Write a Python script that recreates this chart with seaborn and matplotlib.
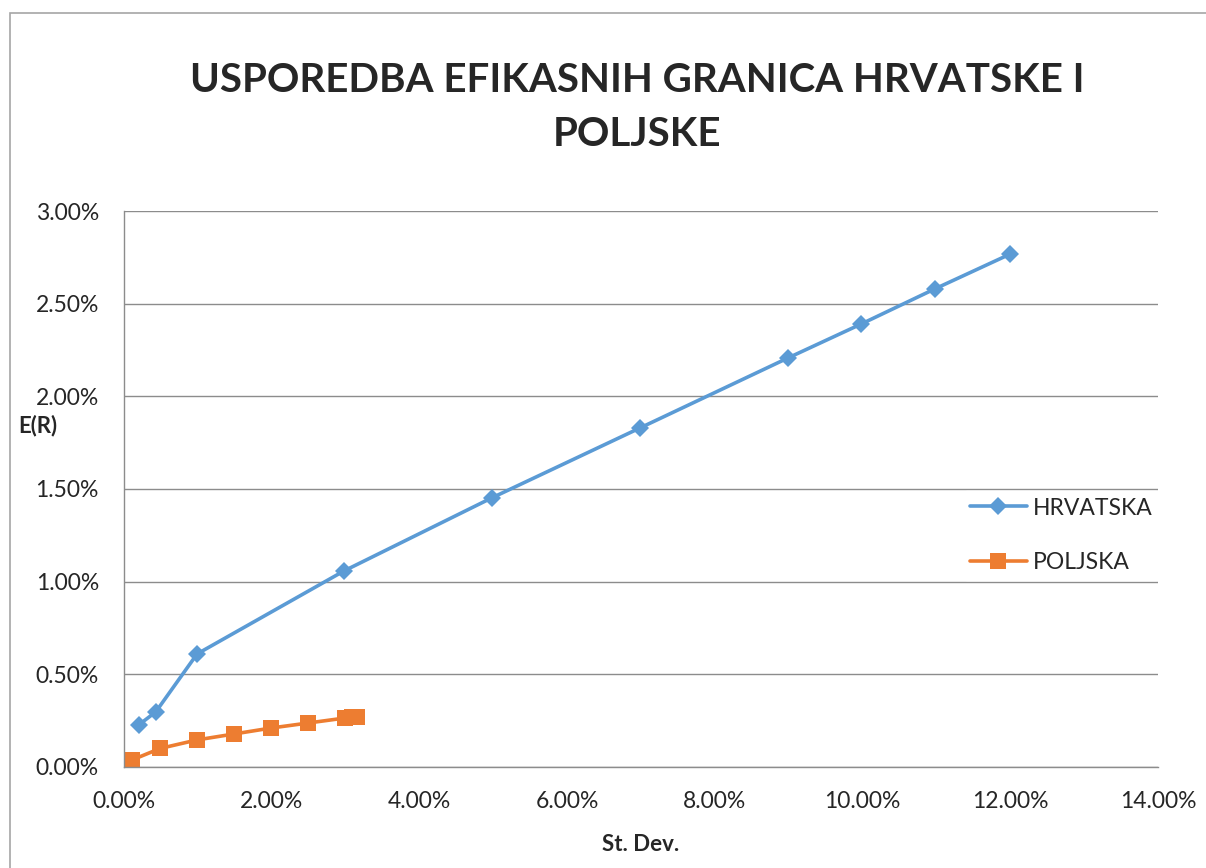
import numpy as np
import pandas as pd
import matplotlib
matplotlib.use("Agg")
import matplotlib.pyplot as plt
import seaborn as sns
from matplotlib.ticker import PercentFormatter
from matplotlib.patches import Rectangle

# values in percent
hr_sd = [0.20, 0.43, 0.99, 2.98, 4.98, 6.99, 8.99, 9.98, 10.98, 12.0]
hr_er = [0.227, 0.297, 0.61, 1.058, 1.452, 1.83, 2.207, 2.39, 2.58, 2.768]

pl_sd = [0.11, 0.49, 0.99, 1.49, 1.99, 2.49, 2.99, 3.09, 3.15]
pl_er = [0.038, 0.10, 0.146, 0.178, 0.21, 0.237, 0.264, 0.27, 0.27]

title = "USPOREDBA EFIKASNIH GRANICA HRVATSKE I\nPOLJSKE"

sns.set_style("white")
plt.rcParams["font.family"] = ["Lato", "DejaVu Sans"]

hr = pd.DataFrame({"sd": hr_sd, "er": hr_er})
pl = pd.DataFrame({"sd": pl_sd, "er": pl_er})

fig = plt.figure(figsize=(12.06, 8.68), dpi=100)
ax = fig.add_axes([0.1028, 0.1164, 0.9602 - 0.1028, 0.7569 - 0.1164])

sns.lineplot(data=hr, x="sd", y="er", ax=ax, color="#5B9BD5", lw=2.6,
             marker="D", markersize=9.5, markeredgewidth=0, sort=False,
             label="HRVATSKA")
sns.lineplot(data=pl, x="sd", y="er", ax=ax, color="#ED7D31", lw=2.6,
             marker="s", markersize=11, markeredgewidth=0, sort=False,
             label="POLJSKA")

ax.set_xlim(0, 14)
ax.set_ylim(0, 3)
ax.set_xticks(np.arange(0, 14.1, 2))
ax.set_yticks(np.arange(0, 3.01, 0.5))
ax.xaxis.set_major_formatter(PercentFormatter(decimals=2))
ax.yaxis.set_major_formatter(PercentFormatter(decimals=2))
ax.tick_params(labelsize=16.5, length=0)
ax.tick_params(axis="x", pad=17)
ax.tick_params(axis="y", pad=18)
ax.grid(axis="y", color="#8c8c8c", lw=1)
ax.set_axisbelow(True)
for s in ["top", "right"]:
    ax.spines[s].set_visible(False)
for s in ["left", "bottom"]:
    ax.spines[s].set_color("#8c8c8c")
    ax.spines[s].set_linewidth(1)

ax.set_xlabel("St. Dev.", fontsize=16, fontweight="bold")
ax.xaxis.set_label_coords(0.5, -0.12)
ax.set_ylabel("E(R)", fontsize=16, fontweight="bold", rotation=0)
ax.yaxis.set_label_coords(-0.083, 0.595)

leg = ax.legend(loc="center left", bbox_to_anchor=(0.80, 0.417), frameon=True,
                fontsize=16.5, handlelength=2.5, labelspacing=1.45,
                borderpad=0.3, handletextpad=0.25)
leg.get_frame().set_edgecolor("white")
leg.get_frame().set_facecolor("white")
leg.get_frame().set_alpha(1)

fig.text(0.528, 0.876, title, ha="center", va="center", fontsize=29,
         fontweight="bold", linespacing=1.55)

fig.patches.append(Rectangle((10 / 1206, -0.1), 1.2, 1 - 13 / 868 + 0.1,
                             transform=fig.transFigure, fill=False,
                             edgecolor="#a6a6a6", lw=1.2))

fig.savefig("out.png", dpi=100)
